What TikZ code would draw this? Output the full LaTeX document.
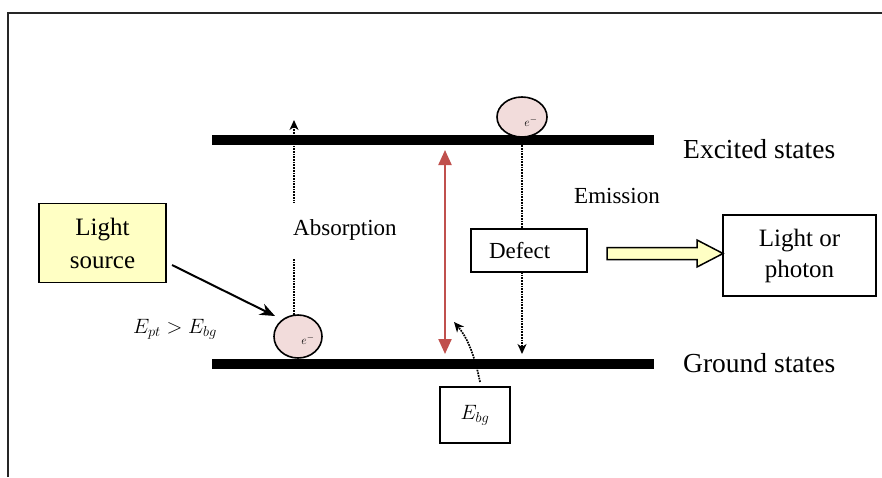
\documentclass[tikz,border=0pt]{standalone}
\usepackage{fontspec}
\setmainfont{Liberation Serif}
\usetikzlibrary{arrows.meta,shapes.geometric,backgrounds,calc}
\definecolor{pinkfill}{RGB}{242,220,219}
\definecolor{yfill}{RGB}{255,255,196}
\definecolor{redarr}{RGB}{192,80,77}
\begin{document}
\begin{tikzpicture}[x=1pt,y=-1pt,
  box/.style={draw, line width=1.8pt, inner sep=0pt},
  dotarrow/.style={densely dotted, line width=1.7pt, -{Stealth[length=10pt,width=9pt,inset=3pt]}},
  lbl/.style={font=\fontsize{23}{27}\selectfont, inner sep=0pt},
  big/.style={font=\fontsize{27.5}{32}\selectfont, inner sep=0pt},
  bar/.style={fill=black, minimum width=442pt, minimum height=10pt, inner sep=0pt},
  electron/.style={ellipse, draw, line width=1.6pt, fill=pinkfill, inner sep=0pt},
  elabel/.style={font=\fontsize{13}{13}\selectfont, inner sep=0pt}]
\useasboundingbox (0,0) rectangle (882,477);
% frame
\draw[line width=2pt, black!85] (8,477) -- (8,13) -- (882,13);
% energy levels
\node[bar] (exc) at (433,139.5) {};
\node[bar] (gnd) at (433,364) {};
\node[big, anchor=base west] (exclbl) at (683,158) {Excited states};
\node[big, anchor=base west] (gndlbl) at (683,372) {Ground states};
% electrons
\node[electron, minimum width=50pt, minimum height=40pt] (e1) at (522,117) {};
\node[elabel] (e1t) at (531,122) {$e^{-}$};
\node[electron, minimum width=48pt, minimum height=43pt] (e2) at (298,336.5) {};
\node[elabel] (e2t) at (308,340) {$e^{-}$};
% boxes
\node[box, fill=yfill, minimum width=127pt, minimum height=79pt, align=center,
      font=\fontsize{25}{33}\selectfont] (src) at (102.5,243) {Light\\source};
\node[box, minimum width=153pt, minimum height=81pt, align=center,
      font=\fontsize{25}{31}\selectfont] (photon) at (799.5,255.5) {Light or\\photon};
\node[box, fill=white, text width=80pt, inner xsep=18pt, minimum height=43pt, align=left,
      font=\fontsize{23}{27}\selectfont] (def) at (529,250.5) {Defect};
\node[box, minimum width=70pt, minimum height=56pt,
      font=\fontsize{22}{26}\selectfont] (ebg) at (475,415) {$E_{bg}$};
% labels
\node[lbl, anchor=west, fill=white, inner xsep=6pt, minimum height=55pt] (abs) at (287,230) {Absorption};
\node[lbl] (emi) at (617,196) {Emission};
\node[font=\fontsize{22}{26}\selectfont, inner sep=0pt] (ep) at (175,329) {$E_{pt} > E_{bg}$};
% coordinates
\coordinate (abbot) at (294,320);
\coordinate (abtop) at (294,120);
\coordinate (emtop) at (522,137);
\coordinate (embot) at (522,354);
\coordinate (rtop) at (445,150);
\coordinate (rbot) at (445,354);
\coordinate (cstart) at (480,382);
\coordinate (cend) at (454,322);
\coordinate (lsrc) at (172,265);
\coordinate (ltip) at (275,316);
\begin{scope}[on background layer]
  \draw[dotarrow] (abbot) -- (abtop);
  \draw[dotarrow] (emtop) -- (embot);
\end{scope}
% red double arrow
\draw[redarr, line width=2.2pt, {Triangle[length=15pt,width=13pt]}-{Triangle[length=15pt,width=13pt]}] (rtop) -- (rbot);
% curved dotted arrow
\draw[dotarrow] (cstart) .. controls (474,352) and (466,336) .. (cend);
% light source arrow
\draw[line width=2pt, -{Stealth[length=15pt,width=12pt]}] (lsrc) -- (ltip);
% block arrow
\draw[line width=1.5pt, fill=yfill, line join=miter]
  (607,247.5) -- (697,247.5) -- (697,240) -- (723,253.5) -- (697,267) -- (697,259.5) -- (607,259.5) -- cycle;
\end{tikzpicture}
\end{document}
